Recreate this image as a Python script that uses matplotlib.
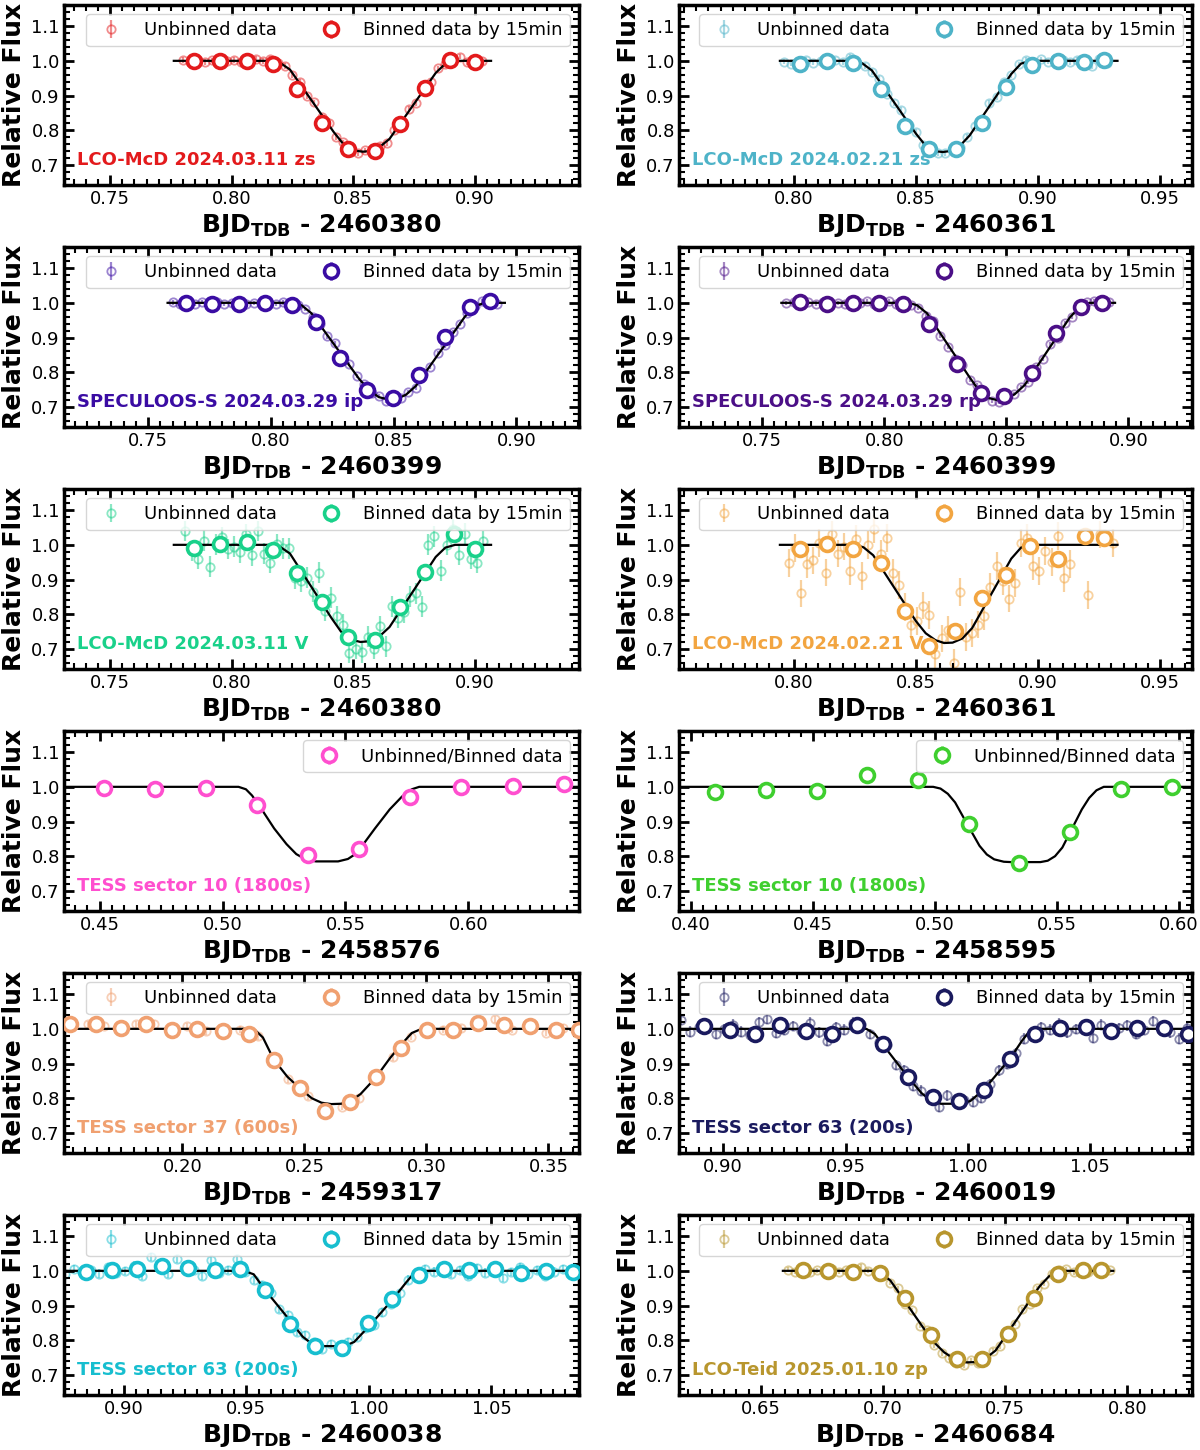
"""Light curves of the 12 transit observations (6 x 2 grid)."""

import matplotlib.pyplot as plt
from matplotlib.ticker import AutoMinorLocator, MultipleLocator

# ---------------- panel 0: LCO-McD 2024.03.11 zs ----------------
p0_bin_x = [0.7844, 0.7952, 0.8063, 0.8170, 0.8270, 0.8373, 0.8479, 0.8590, 0.8695, 0.8794, 0.8900, 0.9002]
p0_bin_y = [1.000, 1.000, 1.000, 0.990, 0.918, 0.820, 0.746, 0.741, 0.817, 0.923, 1.002, 0.998]
p0_unb_x = [0.780, 0.783, 0.786, 0.789, 0.792, 0.795, 0.798, 0.801, 0.804, 0.807, 0.810, 0.813, 0.816, 0.819,
            0.822, 0.825, 0.828, 0.831, 0.834, 0.837, 0.840, 0.843, 0.846, 0.849, 0.852, 0.855, 0.858, 0.861,
            0.864, 0.867, 0.870, 0.873, 0.876, 0.879, 0.882, 0.885, 0.888, 0.891, 0.894, 0.897, 0.900, 0.903]
p0_unb_y = [1.002, 0.998, 1.003, 0.997, 1.001, 1.004, 0.999, 1.002, 0.996, 1.003, 1.005, 0.999, 1.006, 0.995,
            0.985, 0.958, 0.940, 0.898, 0.880, 0.838, 0.822, 0.781, 0.765, 0.738, 0.733, 0.742, 0.735, 0.755,
            0.762, 0.800, 0.818, 0.862, 0.878, 0.922, 0.940, 0.978, 0.990, 1.008, 1.012, 0.997, 1.003, 0.999]
p0_mod_x = [0.7762, 0.8170, 0.8200, 0.8240, 0.8420, 0.8460, 0.8500, 0.8540, 0.8570, 0.8610, 0.8650, 0.8840, 0.8880, 0.8920, 0.9068]
p0_mod_y = [1.0, 1.0, 0.994, 0.975, 0.795, 0.760, 0.742, 0.738, 0.740, 0.752, 0.775, 0.965, 0.992, 1.0, 1.0]

# ---------------- panel 1: LCO-McD 2024.02.21 zs ----------------
p1_bin_x = [0.8025, 0.8136, 0.8243, 0.8357, 0.8456, 0.8554, 0.8662, 0.8769, 0.8870, 0.8973, 0.9080, 0.9187, 0.9270]
p1_bin_y = [0.990, 1.000, 0.993, 0.918, 0.813, 0.745, 0.746, 0.822, 0.924, 0.988, 1.000, 0.997, 1.001]
p1_unb_x = [0.796, 0.799, 0.802, 0.805, 0.808, 0.811, 0.814, 0.817, 0.820, 0.823, 0.826, 0.829, 0.832, 0.835,
            0.838, 0.841, 0.844, 0.847, 0.850, 0.853, 0.856, 0.859, 0.862, 0.865, 0.868, 0.871, 0.874, 0.877,
            0.880, 0.883, 0.886, 0.889, 0.892, 0.895, 0.898, 0.901, 0.904, 0.907, 0.910, 0.913, 0.916, 0.919,
            0.922, 0.925, 0.928]
p1_unb_y = [0.998, 0.992, 0.988, 1.003, 0.995, 0.999, 1.004, 1.002, 0.997, 1.012, 0.994, 0.985, 0.968, 0.948,
            0.905, 0.878, 0.858, 0.815, 0.795, 0.758, 0.748, 0.733, 0.735, 0.745, 0.752, 0.780, 0.812, 0.832,
            0.878, 0.895, 0.940, 0.958, 0.990, 1.002, 0.996, 1.004, 0.998, 1.006, 1.001, 0.997, 1.003, 0.992,
            0.985, 1.004, 0.994]
p1_mod_x = [0.7943, 0.8245, 0.8280, 0.8320, 0.8500, 0.8540, 0.8575, 0.8610, 0.8640, 0.8680, 0.8720, 0.8890, 0.8930, 0.8970, 0.9325]
p1_mod_y = [1.0, 1.0, 0.993, 0.972, 0.790, 0.755, 0.740, 0.737, 0.740, 0.755, 0.785, 0.962, 0.992, 1.0, 1.0]

# ---------------- panel 2: SPECULOOS-S 2024.03.29 ip ----------------
p2_bin_x = [0.7653, 0.7761, 0.7868, 0.7975, 0.8084, 0.8184, 0.8282, 0.8392, 0.8498, 0.8602, 0.8711, 0.8811, 0.8893]
p2_bin_y = [1.000, 0.998, 0.997, 0.999, 0.995, 0.945, 0.841, 0.748, 0.726, 0.791, 0.902, 0.988, 1.005]
p2_unb_x = [0.760, 0.763, 0.766, 0.769, 0.772, 0.775, 0.778, 0.781, 0.784, 0.787, 0.790, 0.793, 0.796, 0.799,
            0.802, 0.805, 0.808, 0.811, 0.814, 0.817, 0.820, 0.823, 0.826, 0.829, 0.832, 0.835, 0.838, 0.841,
            0.844, 0.847, 0.850, 0.853, 0.856, 0.859, 0.862, 0.865, 0.868, 0.871, 0.874, 0.877, 0.880, 0.883,
            0.886, 0.889, 0.892]
p2_unb_y = [1.001, 0.998, 1.000, 0.997, 1.002, 0.999, 1.001, 0.996, 1.000, 1.003, 0.998, 1.000, 0.999, 1.002,
            0.997, 1.001, 0.999, 0.994, 0.983, 0.958, 0.940, 0.903, 0.884, 0.846, 0.823, 0.788, 0.766, 0.740,
            0.731, 0.718, 0.723, 0.725, 0.743, 0.755, 0.795, 0.815, 0.855, 0.877, 0.915, 0.938, 0.972, 0.992,
            1.006, 1.003, 0.998]
p2_mod_x = [0.7579, 0.8090, 0.8125, 0.8165, 0.8360, 0.8400, 0.8440, 0.8480, 0.8510, 0.8550, 0.8590, 0.8790, 0.8830, 0.8870, 0.8953]
p2_mod_y = [1.0, 1.0, 0.993, 0.970, 0.780, 0.748, 0.728, 0.721, 0.722, 0.735, 0.760, 0.960, 0.990, 1.0, 1.0]

# ---------------- panel 3: SPECULOOS-S 2024.03.29 rp ----------------
p3_bin_x = [0.7654, 0.7767, 0.7874, 0.7979, 0.8076, 0.8183, 0.8298, 0.8395, 0.8490, 0.8607, 0.8705, 0.8804, 0.8890]
p3_bin_y = [1.002, 0.998, 1.000, 1.000, 0.997, 0.940, 0.824, 0.740, 0.731, 0.798, 0.912, 0.988, 1.000]
p3_unb_x = [0.760, 0.763, 0.766, 0.769, 0.772, 0.775, 0.778, 0.781, 0.784, 0.787, 0.790, 0.793, 0.796, 0.799,
            0.802, 0.805, 0.808, 0.811, 0.814, 0.817, 0.820, 0.823, 0.826, 0.829, 0.832, 0.835, 0.838, 0.841,
            0.844, 0.847, 0.850, 0.853, 0.856, 0.859, 0.862, 0.865, 0.868, 0.871, 0.874, 0.877, 0.880, 0.883,
            0.886, 0.889, 0.892]
p3_unb_y = [0.999, 1.002, 0.997, 1.001, 0.998, 1.003, 0.996, 1.000, 0.998, 1.002, 0.999, 1.004, 0.997, 1.001,
            1.006, 0.998, 1.003, 0.993, 0.985, 0.963, 0.948, 0.905, 0.872, 0.838, 0.822, 0.778, 0.762, 0.730,
            0.718, 0.715, 0.728, 0.738, 0.758, 0.772, 0.815, 0.838, 0.880, 0.898, 0.942, 0.958, 0.980, 1.002,
            1.005, 0.996, 1.001]
p3_mod_x = [0.7579, 0.8100, 0.8135, 0.8175, 0.8345, 0.8385, 0.8425, 0.8460, 0.8495, 0.8535, 0.8575, 0.8760, 0.8800, 0.8840, 0.8945]
p3_mod_y = [1.0, 1.0, 0.993, 0.970, 0.790, 0.750, 0.726, 0.720, 0.722, 0.737, 0.763, 0.958, 0.988, 1.0, 1.0]

# ---------------- panel 4: LCO-McD 2024.03.11 V ----------------
p4_bin_x = [0.7844, 0.7952, 0.8063, 0.8170, 0.8270, 0.8373, 0.8479, 0.8590, 0.8695, 0.8794, 0.8916, 0.9002]
p4_bin_y = [0.991, 1.003, 1.008, 0.984, 0.918, 0.835, 0.734, 0.726, 0.820, 0.923, 1.032, 0.988]
p4_unb_x = [0.7810, 0.7835, 0.7860, 0.7885, 0.7910, 0.7935, 0.7960, 0.7985, 0.8010, 0.8035, 0.8060, 0.8085,
            0.8110, 0.8135, 0.8160, 0.8185, 0.8210, 0.8235, 0.8260, 0.8285, 0.8310, 0.8335, 0.8360, 0.8385,
            0.8410, 0.8435, 0.8460, 0.8485, 0.8510, 0.8535, 0.8560, 0.8585, 0.8610, 0.8635, 0.8660, 0.8685,
            0.8710, 0.8735, 0.8760, 0.8785, 0.8810, 0.8835, 0.8860, 0.8885, 0.8910, 0.8935, 0.8960, 0.8985,
            0.9010, 0.9035]
p4_unb_y = [1.040, 0.982, 0.960, 1.012, 0.937, 1.000, 1.022, 0.988, 0.995, 0.978, 1.030, 0.970,
            1.040, 0.975, 0.948, 1.002, 0.990, 0.990, 0.903, 0.895, 0.905, 0.865, 0.920, 0.810,
            0.848, 0.795, 0.770, 0.688, 0.700, 0.690, 0.735, 0.700, 0.765, 0.708, 0.823, 0.790,
            0.805, 0.850, 0.860, 0.822, 1.000, 1.025, 0.925, 1.000, 1.045, 0.972, 1.032, 0.960,
            0.948, 1.010]
p4_mod_x = [0.7762, 0.8170, 0.8200, 0.8240, 0.8410, 0.8450, 0.8490, 0.8530, 0.8570, 0.8610, 0.8650, 0.8840, 0.8880, 0.8920, 0.9068]
p4_mod_y = [1.0, 1.0, 0.994, 0.975, 0.790, 0.750, 0.727, 0.720, 0.722, 0.737, 0.763, 0.965, 0.992, 1.0, 1.0]

# ---------------- panel 5: LCO-McD 2024.02.21 V ----------------
p5_bin_x = [0.8025, 0.8136, 0.8243, 0.8357, 0.8456, 0.8554, 0.8658, 0.8769, 0.8867, 0.8965, 0.9080, 0.9191, 0.9270]
p5_bin_y = [0.987, 1.003, 0.988, 0.949, 0.809, 0.708, 0.753, 0.846, 0.914, 0.996, 0.960, 1.025, 1.020]
p5_unb_x = [0.7980, 0.8005, 0.8030, 0.8055, 0.8080, 0.8105, 0.8130, 0.8155, 0.8180, 0.8205, 0.8230, 0.8255,
            0.8280, 0.8305, 0.8330, 0.8355, 0.8380, 0.8405, 0.8430, 0.8455, 0.8480, 0.8505, 0.8530, 0.8555,
            0.8580, 0.8605, 0.8630, 0.8655, 0.8680, 0.8705, 0.8730, 0.8755, 0.8780, 0.8805, 0.8830, 0.8855,
            0.8880, 0.8905, 0.8930, 0.8955, 0.8980, 0.9005, 0.9030, 0.9055, 0.9080, 0.9105, 0.9130, 0.9205,
            0.9255, 0.9305]
p5_unb_y = [0.948, 0.990, 0.860, 0.945, 0.955, 1.005, 0.920, 1.030, 0.975, 0.995, 0.925, 1.018,
            0.910, 1.000, 1.045, 0.975, 1.020, 0.920, 0.885, 0.820, 0.770, 0.780, 0.825, 0.798,
            0.685, 0.730, 0.755, 0.660, 0.865, 0.735, 0.745, 0.770, 0.795, 0.878, 0.940, 0.895,
            0.845, 0.890, 1.005, 1.020, 0.940, 0.925, 0.982, 0.950, 1.025, 0.905, 0.945, 0.855,
            1.030, 1.005]
p5_mod_x = [0.7943, 0.8250, 0.8285, 0.8325, 0.8500, 0.8540, 0.8580, 0.8615, 0.8650, 0.8690, 0.8730, 0.8890, 0.8930, 0.8970, 0.9325]
p5_mod_y = [1.0, 1.0, 0.993, 0.970, 0.780, 0.745, 0.725, 0.717, 0.718, 0.730, 0.760, 0.960, 0.992, 1.0, 1.0]

# ---------------- panel 6: TESS sector 10 (pink) ----------------
p6_bin_x = [0.4516, 0.4724, 0.4932, 0.5140, 0.5348, 0.5556, 0.5764, 0.5972, 0.6180, 0.6388]
p6_bin_y = [0.998, 0.993, 0.998, 0.949, 0.803, 0.821, 0.971, 1.000, 1.003, 1.007]
p6_mod_x = [0.4355, 0.5065, 0.5095, 0.5120, 0.5150, 0.5210, 0.5260, 0.5300, 0.5340, 0.5380, 0.5470, 0.5510,
            0.5540, 0.5570, 0.5620, 0.5680, 0.5730, 0.5770, 0.5800, 0.6450]
p6_mod_y = [1.0, 1.0, 0.993, 0.975, 0.945, 0.880, 0.835, 0.806, 0.790, 0.785, 0.785, 0.792,
            0.806, 0.832, 0.880, 0.935, 0.972, 0.993, 1.0, 1.0]

# ---------------- panel 7: TESS sector 10 (green) ----------------
p7_bin_x = [0.4099, 0.4307, 0.4515, 0.4723, 0.4931, 0.5139, 0.5347, 0.5555, 0.5763, 0.5971]
p7_bin_y = [0.984, 0.990, 0.988, 1.034, 1.019, 0.894, 0.779, 0.869, 0.995, 1.000]
p7_mod_x = [0.3950, 0.4993, 0.5023, 0.5053, 0.5083, 0.5133, 0.5183, 0.5213, 0.5243, 0.5283, 0.5313, 0.5433,
            0.5463, 0.5493, 0.5523, 0.5563, 0.5603, 0.5633, 0.5663, 0.5693, 0.6060]
p7_mod_y = [1.0, 1.0, 0.995, 0.980, 0.955, 0.892, 0.830, 0.805, 0.791, 0.784, 0.783, 0.783,
            0.787, 0.800, 0.825, 0.880, 0.935, 0.968, 0.990, 1.0, 1.0]

# ---------------- panel 8: TESS sector 37 ----------------
p8_bin_x = [0.1539, 0.1645, 0.1748, 0.1850, 0.1957, 0.2060, 0.2166, 0.2272, 0.2374, 0.2482, 0.2584,
            0.2687, 0.2793, 0.2897, 0.3003, 0.3108, 0.3213, 0.3319, 0.3426, 0.3529, 0.3626]
p8_bin_y = [1.013, 1.013, 1.001, 1.013, 0.998, 1.000, 0.993, 0.984, 0.911, 0.829, 0.764,
            0.790, 0.860, 0.945, 0.998, 0.998, 1.017, 1.011, 1.008, 0.996, 0.998]
p8_unb_x = [0.1614, 0.1677, 0.1811, 0.1882, 0.2020, 0.2098, 0.2237, 0.2308, 0.2434, 0.2513,
            0.2652, 0.2722, 0.2861, 0.2937, 0.3066, 0.3140, 0.3279, 0.3350, 0.3489, 0.3558]
p8_unb_y = [1.013, 1.008, 1.013, 1.015, 1.008, 0.993, 0.998, 0.979, 0.855, 0.806,
            0.775, 0.800, 0.918, 0.977, 0.998, 1.001, 1.027, 0.998, 0.988, 1.003]
p8_mod_x = [0.1515, 0.2275, 0.2300, 0.2330, 0.2374, 0.2430, 0.2482, 0.2530, 0.2570, 0.2610, 0.2650,
            0.2690, 0.2730, 0.2793, 0.2850, 0.2897, 0.2940, 0.2980, 0.3625]
p8_mod_y = [1.0, 1.0, 0.995, 0.975, 0.912, 0.862, 0.828, 0.800, 0.787, 0.783, 0.784,
            0.792, 0.812, 0.860, 0.915, 0.955, 0.988, 1.0, 1.0]

# ---------------- panel 9: TESS sector 63 (navy) ----------------
p9_bin_x = [0.8921, 0.9028, 0.9130, 0.9231, 0.9338, 0.9443, 0.9545, 0.9652, 0.9754, 0.9859,
            0.9963, 1.0065, 1.0173, 1.0275, 1.0377, 1.0484, 1.0586, 1.0692, 1.0799, 1.0900]
p9_bin_y = [1.008, 0.996, 0.986, 1.010, 0.993, 0.985, 1.010, 0.955, 0.861, 0.804,
            0.793, 0.824, 0.914, 0.985, 1.001, 1.006, 0.993, 1.001, 1.003, 0.985]
p9_unb_x = [0.8830, 0.8865, 0.8900, 0.8935, 0.8970, 0.9005, 0.9040, 0.9075, 0.9110, 0.9145, 0.9180, 0.9215,
            0.9250, 0.9285, 0.9320, 0.9355, 0.9390, 0.9425, 0.9460, 0.9495, 0.9530, 0.9565, 0.9600, 0.9635,
            0.9670, 0.9705, 0.9740, 0.9775, 0.9810, 0.9845, 0.9880, 0.9915, 0.9950, 0.9985, 1.0020, 1.0055,
            1.0090, 1.0125, 1.0160, 1.0195, 1.0230, 1.0265, 1.0300, 1.0335, 1.0370, 1.0405, 1.0440, 1.0475,
            1.0510, 1.0545, 1.0580, 1.0615, 1.0650, 1.0685, 1.0720, 1.0755, 1.0790, 1.0825, 1.0860, 1.0895]
p9_unb_y = [1.025, 0.992, 1.004, 1.010, 0.985, 1.000, 1.012, 0.992, 0.983, 1.020, 1.028, 0.988,
            0.998, 1.008, 0.995, 1.018, 0.990, 0.965, 1.005, 0.998, 1.018, 1.015, 0.985, 0.962,
            0.952, 0.895, 0.880, 0.835, 0.822, 0.798, 0.775, 0.808, 0.790, 0.795, 0.790, 0.800,
            0.840, 0.880, 0.900, 0.930, 0.972, 0.985, 1.005, 0.998, 1.015, 0.990, 1.000, 1.008,
            0.975, 1.012, 0.992, 1.003, 1.010, 0.985, 0.998, 1.022, 1.005, 0.990, 0.972, 1.002]
p9_mod_x = [0.8820, 0.9585, 0.9620, 0.9652, 0.9754, 0.9810, 0.9850, 0.9890, 0.9970, 1.0010, 1.0065,
            1.0173, 1.0220, 1.0250, 1.0270, 1.0915]
p9_mod_y = [1.0, 1.0, 0.985, 0.955, 0.862, 0.815, 0.792, 0.784, 0.784, 0.792, 0.825,
            0.915, 0.965, 0.992, 1.0, 1.0]

# ---------------- panel 10: TESS sector 63 (cyan) ----------------
p10_bin_x = [0.8847, 0.8950, 0.9052, 0.9157, 0.9263, 0.9370, 0.9472, 0.9575, 0.9680, 0.9782,
             0.9889, 0.9996, 1.0094, 1.0204, 1.0306, 1.0409, 1.0516, 1.0621, 1.0724, 1.0831]
p10_bin_y = [0.997, 1.003, 1.005, 1.015, 1.008, 1.002, 1.005, 0.944, 0.847, 0.782,
             0.777, 0.850, 0.918, 0.987, 1.005, 1.002, 1.005, 0.993, 1.000, 0.997]
p10_unb_x = [0.8760, 0.8795, 0.8830, 0.8865, 0.8900, 0.8935, 0.8970, 0.9005, 0.9040, 0.9075, 0.9110, 0.9145,
             0.9180, 0.9215, 0.9250, 0.9285, 0.9320, 0.9355, 0.9390, 0.9425, 0.9460, 0.9495, 0.9530, 0.9565,
             0.9600, 0.9635, 0.9670, 0.9705, 0.9740, 0.9775, 0.9810, 0.9845, 0.9880, 0.9915, 0.9950, 0.9985,
             1.0020, 1.0055, 1.0090, 1.0125, 1.0160, 1.0195, 1.0230, 1.0265, 1.0300, 1.0335, 1.0370, 1.0405,
             1.0440, 1.0475, 1.0510, 1.0545, 1.0580, 1.0615, 1.0650, 1.0685, 1.0720, 1.0755, 1.0790, 1.0825]
p10_unb_y = [0.990, 1.005, 0.998, 1.003, 0.992, 1.010, 0.995, 1.000, 1.015, 0.985, 1.040, 1.008,
             0.990, 1.035, 1.012, 1.003, 0.985, 1.030, 0.995, 1.003, 1.035, 0.998, 0.975, 0.960,
             0.935, 0.890, 0.873, 0.825, 0.815, 0.795, 0.775, 0.790, 0.770, 0.795, 0.810, 0.835,
             0.845, 0.880, 0.905, 0.935, 0.975, 0.992, 1.005, 0.998, 1.012, 0.990, 1.003, 0.985,
             1.008, 0.995, 1.002, 0.980, 0.997, 1.010, 0.990, 1.003, 0.985, 0.998, 1.005, 0.992]
p10_mod_x = [0.8756, 0.9490, 0.9530, 0.9575, 0.9680, 0.9730, 0.9770, 0.9800, 0.9900, 0.9940, 1.0000,
             1.0094, 1.0150, 1.0180, 1.0200, 1.0857]
p10_mod_y = [1.0, 1.0, 0.990, 0.946, 0.855, 0.810, 0.788, 0.783, 0.783, 0.795, 0.840,
             0.915, 0.965, 0.990, 1.0, 1.0]

# ---------------- panel 11: LCO-Teid 2025.01.10 zp ----------------
p11_bin_x = [0.6671, 0.6775, 0.6877, 0.6987, 0.7088, 0.7195, 0.7302, 0.7404, 0.7513, 0.7616, 0.7717, 0.7816, 0.7890]
p11_bin_y = [1.002, 1.000, 0.997, 0.993, 0.923, 0.814, 0.746, 0.746, 0.819, 0.921, 0.990, 1.002, 1.002]
p11_unb_x = [0.661, 0.664, 0.667, 0.670, 0.673, 0.676, 0.679, 0.682, 0.685, 0.688, 0.691, 0.694, 0.697, 0.700,
             0.703, 0.706, 0.709, 0.712, 0.715, 0.718, 0.721, 0.724, 0.727, 0.730, 0.733, 0.736, 0.739, 0.742,
             0.745, 0.748, 0.751, 0.754, 0.757, 0.760, 0.763, 0.766, 0.769, 0.772, 0.775, 0.778, 0.781, 0.784,
             0.787, 0.790, 0.793]
p11_unb_y = [1.003, 0.998, 1.004, 0.996, 1.001, 0.999, 1.005, 0.997, 1.002, 0.998, 1.012, 1.000, 0.995, 0.985,
             0.965, 0.950, 0.905, 0.887, 0.842, 0.828, 0.785, 0.762, 0.750, 0.735, 0.728, 0.742, 0.733, 0.752,
             0.770, 0.782, 0.825, 0.848, 0.890, 0.905, 0.950, 0.962, 0.990, 1.003, 1.005, 0.996, 1.001, 0.998,
             1.003, 0.999, 1.002]
p11_mod_x = [0.6590, 0.6960, 0.6990, 0.7030, 0.7200, 0.7250, 0.7300, 0.7340, 0.7380, 0.7420, 0.7460,
             0.7640, 0.7680, 0.7720, 0.7750, 0.7942]
p11_mod_y = [1.0, 1.0, 0.994, 0.972, 0.800, 0.765, 0.742, 0.736, 0.737, 0.748, 0.770,
             0.955, 0.985, 0.998, 1.0, 1.0]

labels = ["LCO-McD 2024.03.11 zs", "LCO-McD 2024.02.21 zs",
          "SPECULOOS-S 2024.03.29 ip", "SPECULOOS-S 2024.03.29 rp",
          "LCO-McD 2024.03.11 V", "LCO-McD 2024.02.21 V",
          "TESS sector 10 (1800s)", "TESS sector 10 (1800s)",
          "TESS sector 37 (600s)", "TESS sector 63 (200s)",
          "TESS sector 63 (200s)", "LCO-Teid 2025.01.10 zp"]
offsets = [2460380, 2460361, 2460399, 2460399, 2460380, 2460361,
           2458576, 2458595, 2459317, 2460019, 2460038, 2460684]
colors = ["#e31a1c", "#4eb3c8", "#3a0ca3", "#4b0f87", "#19d18a", "#f2a541",
          "#ff4fcf", "#3fcf2f", "#f0a070", "#1a1a5e", "#17becf", "#b8962e"]
xlims = [(0.731, 0.943), (0.753, 0.963), (0.7157, 0.9255), (0.716, 0.926),
         (0.731, 0.943), (0.753, 0.963), (0.4355, 0.645), (0.395, 0.6055),
         (0.1515, 0.3625), (0.882, 1.0915), (0.8756, 1.0857), (0.6165, 0.8264)]
unb_err = [0.008, 0.008, 0.006, 0.006, 0.03, 0.04, None, None, 0.01, 0.015, 0.012, 0.007]
bin_err = [0.004, 0.004, 0.003, 0.003, 0.01, 0.012, 0.006, 0.006, 0.005, 0.006, 0.005, 0.004]

bins = [(p0_bin_x, p0_bin_y), (p1_bin_x, p1_bin_y), (p2_bin_x, p2_bin_y), (p3_bin_x, p3_bin_y),
        (p4_bin_x, p4_bin_y), (p5_bin_x, p5_bin_y), (p6_bin_x, p6_bin_y), (p7_bin_x, p7_bin_y),
        (p8_bin_x, p8_bin_y), (p9_bin_x, p9_bin_y), (p10_bin_x, p10_bin_y), (p11_bin_x, p11_bin_y)]
unbinned = [(p0_unb_x, p0_unb_y), (p1_unb_x, p1_unb_y), (p2_unb_x, p2_unb_y), (p3_unb_x, p3_unb_y),
            (p4_unb_x, p4_unb_y), (p5_unb_x, p5_unb_y), None, None,
            (p8_unb_x, p8_unb_y), (p9_unb_x, p9_unb_y), (p10_unb_x, p10_unb_y), (p11_unb_x, p11_unb_y)]
models = [(p0_mod_x, p0_mod_y), (p1_mod_x, p1_mod_y), (p2_mod_x, p2_mod_y), (p3_mod_x, p3_mod_y),
          (p4_mod_x, p4_mod_y), (p5_mod_x, p5_mod_y), (p6_mod_x, p6_mod_y), (p7_mod_x, p7_mod_y),
          (p8_mod_x, p8_mod_y), (p9_mod_x, p9_mod_y), (p10_mod_x, p10_mod_y), (p11_mod_x, p11_mod_y)]

fig = plt.figure(figsize=(12, 14.5), dpi=100)
W, H = 1200.0, 1450.0

for i in range(12):
    row, col = divmod(i, 2)
    left = [64, 679][col]
    width = [515, 513][col]
    top = 5 + 242 * row
    ax = fig.add_axes([left / W, 1 - (top + 180) / H, width / W, 180 / H])
    c = colors[i]

    if unbinned[i] is not None:
        ux, uy = unbinned[i]
        ax.errorbar(ux, uy, yerr=unb_err[i], fmt="o", ms=6, mfc="none", mec=c, mew=1.3,
                    ecolor=c, elinewidth=1.6, alpha=0.5, zorder=1, label="Unbinned data")
    mx, my = models[i]
    ax.plot(mx, my, color="k", lw=1.6, zorder=2)
    bx, by = bins[i]
    blabel = "Binned data by 15min" if unbinned[i] is not None else "Unbinned/Binned data"
    ax.errorbar(bx, by, yerr=bin_err[i], fmt="o", ms=10, mfc="white", mec=c, mew=2.6,
                ecolor=c, elinewidth=2, zorder=3, label=blabel)

    ax.set_xlim(*xlims[i])
    ax.set_ylim(0.642, 1.161)
    ax.xaxis.set_major_locator(MultipleLocator(0.05))
    ax.yaxis.set_major_locator(MultipleLocator(0.1))
    ax.xaxis.set_minor_locator(AutoMinorLocator(10))
    ax.yaxis.set_minor_locator(AutoMinorLocator(5))
    ax.tick_params(which="both", direction="in", top=True, right=True, labelsize=13)
    ax.tick_params(which="major", length=7, width=2)
    ax.tick_params(which="minor", length=4, width=1.5)
    ax.tick_params(axis="y", pad=3)
    for sp in ax.spines.values():
        sp.set_linewidth(2.5)

    ax.set_ylabel("Relative Flux", fontsize=18, fontweight="bold", labelpad=4)
    ax.set_xlabel(r"$\mathbf{BJD_{TDB}}$ - %d" % offsets[i], fontsize=18, fontweight="bold", labelpad=3)
    ax.text(0.025, 0.14, labels[i], transform=ax.transAxes, color=c, fontsize=13,
            fontweight="bold", va="center", ha="left")

    ax.legend(loc="upper right", ncol=2 if unbinned[i] is not None else 1, fontsize=13,
              handletextpad=0.8, columnspacing=2.0, borderaxespad=0.5)

fig.savefig("out.png", dpi=100)
